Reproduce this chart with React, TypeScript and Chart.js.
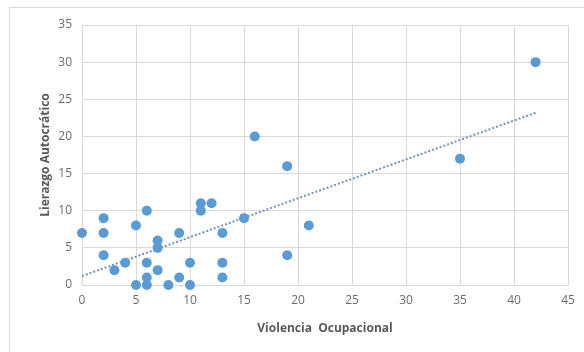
import React, { useEffect, useRef } from "react";
import { Chart, registerables } from "chart.js";

Chart.register(...registerables);

const violencia: number[] = [0, 2, 2, 2, 3, 4, 5, 5, 6, 6, 6, 6, 7, 7, 7, 8, 9, 9, 10, 10, 11, 11, 12, 13, 13, 13, 15, 16, 19, 19, 21, 35, 42];
const liderazgo: number[] = [7, 9, 7, 4, 2, 3, 8, 0, 10, 3, 1, 0, 6, 5, 2, 0, 7, 1, 3, 0, 11, 10, 11, 7, 3, 1, 9, 20, 16, 4, 8, 17, 30];
const xTicks: number[] = [0, 5, 10, 15, 20, 25, 30, 35, 40, 45];
const yTicks: number[] = [0, 5, 10, 15, 20, 25, 30, 35];
const xTitle = "Violencia  Ocupacional";
const yTitle = "Lierazgo Autocrático";

function trend(xs: number[], ys: number[]) {
  const n = xs.length;
  const mx = xs.reduce((a, b) => a + b, 0) / n;
  const my = ys.reduce((a, b) => a + b, 0) / n;
  let sxy = 0, sxx = 0;
  for (let i = 0; i < n; i++) {
    sxy += (xs[i] - mx) * (ys[i] - my);
    sxx += (xs[i] - mx) * (xs[i] - mx);
  }
  const m = sxy / sxx;
  const b = my - m * mx;
  const x0 = Math.min(...xs);
  const x1 = Math.max(...xs);
  return [{ x: x0, y: m * x0 + b }, { x: x1, y: m * x1 + b }];
}

export default function App() {
  const ref = useRef<HTMLCanvasElement>(null);
  useEffect(() => {
    document.body.style.margin = "0";
    document.body.style.overflow = "hidden";
    const pts = violencia.map((x, i) => ({ x, y: liderazgo[i] }));
    const grid = "#d9d9d9";
    const tickFont = { family: "'Open Sans', 'Liberation Sans', sans-serif", size: 12 };
    const chart = new Chart(ref.current!, {
      type: "scatter",
      data: {
        datasets: [
          {
            label: "Datos",
            data: pts,
            backgroundColor: "#5b9bd5",
            borderColor: "#5b9bd5",
            pointRadius: 5,
            pointBorderWidth: 0,
            clip: false,
            order: 1,
          } as any,
          {
            type: "line",
            label: "Tendencia",
            data: trend(violencia, liderazgo),
            borderColor: "#6f93bd",
            borderWidth: 2,
            borderDash: [2, 2],
            pointRadius: 0,
            fill: false,
            order: 2,
          } as any,
        ],
      },
      options: {
        animation: false,
        responsive: false,
        layout: { padding: { top: 25, right: 16, left: 0, bottom: 0 } },
        plugins: { legend: { display: false }, tooltip: { enabled: false } },
        scales: {
          x: {
            type: "linear",
            min: 0,
            max: 45,
            afterBuildTicks: (s: any) => { s.ticks = xTicks.map((v) => ({ value: v })); },
            afterFit: (s: any) => { s.height = 67; },
            grid: { color: grid, drawTicks: false },
            border: { color: grid },
            ticks: { color: "#6b6b6b", font: tickFont, padding: 8 },
            title: {
              display: true,
              text: xTitle,
              color: "#595959",
              font: { family: "'Open Sans', 'Liberation Sans', sans-serif", size: 12, weight: "bold" },
              padding: { top: 8, bottom: 16 },
            },
          },
          y: {
            type: "linear",
            min: 0,
            max: 35,
            afterBuildTicks: (s: any) => { s.ticks = yTicks.map((v) => ({ value: v })); },
            afterFit: (s: any) => { s.width = 82; },
            grid: { color: grid, drawTicks: false },
            border: { color: grid },
            ticks: { color: "#6b6b6b", font: tickFont, padding: 10 },
            title: {
              display: true,
              text: yTitle,
              color: "#595959",
              font: { family: "'Open Sans', 'Liberation Sans', sans-serif", size: 12, weight: "bold" },
              padding: { top: 38, bottom: 0 },
            },
          },
        },
      },
    });
    return () => chart.destroy();
  }, []);
  return (
    <div style={{ position: "fixed", left: 0, top: 0, width: 584, height: 352, background: "#fff", overflow: "hidden" }}>
      <div style={{ position: "absolute", left: 9, top: 7, width: 600, height: 400, border: "1px solid #d9d9d9" }} />
      <canvas ref={ref} width={584} height={352} style={{ position: "absolute", left: 0, top: 0 }} />
    </div>
  );
}
